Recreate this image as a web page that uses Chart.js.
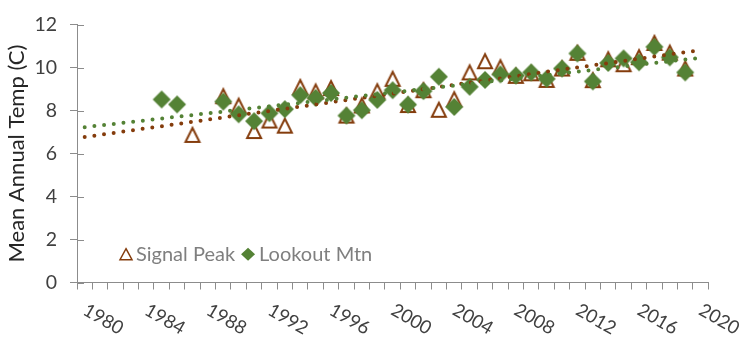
<!DOCTYPE html>
<html><head><meta charset="utf-8">
<script src="https://cdn.jsdelivr.net/npm/chart.js@4/dist/chart.umd.min.js"></script>
<style>html,body{margin:0;padding:0;background:#fff;}#wrap{width:739px;height:338px;}</style>
</head><body><div id="wrap"><canvas id="c" width="739" height="338"></canvas></div>
<script>
const seriesNames = ['Signal Peak', 'Lookout Mtn'];
const signalYears = [1987,1989,1990,1991,1992,1993,1994,1995,1996,1997,1998,1999,2000,2001,2002,2003,2004,2005,2006,2007,2008,2009,2010,2011,2012,2013,2014,2015,2016,2017,2018,2019];
const signalTemps = [6.87,8.67,8.23,7.05,7.54,7.30,9.10,8.89,9.05,7.77,8.24,8.90,9.48,8.26,8.95,8.04,8.53,9.78,10.30,10.02,9.62,9.74,9.43,9.96,10.69,9.42,10.39,10.16,10.49,11.15,10.70,9.96];
const lookoutYears = [1985,1986,1989,1990,1991,1992,1993,1994,1995,1996,1997,1998,1999,2000,2001,2002,2003,2004,2005,2006,2007,2008,2009,2010,2011,2012,2013,2014,2015,2016,2017,2018,2019];
const lookoutTemps = [8.52,8.29,8.42,7.83,7.51,7.88,8.07,8.72,8.59,8.82,7.77,8.02,8.50,8.95,8.28,8.91,9.58,8.17,9.11,9.43,9.69,9.63,9.78,9.48,9.96,10.66,9.36,10.22,10.43,10.25,10.97,10.48,9.78];
const trendYears = [1980, 2020];
const signalTrend = [6.77, 10.82];
const lookoutTrend = [7.23, 10.46];
const xLabelYears = [1980,1984,1988,1992,1996,2000,2004,2008,2012,2016,2020];
const yTickValues = [0,2,4,6,8,10,12];

const BROWN = '#843C0C';
const GREEN = '#548235';
const AXIS = '#8c8c8c';
const FONT = 'Lato, "Open Sans", sans-serif';

function pts(xs, ys){ return xs.map((x,i)=>({x:x, y:ys[i]})); }

function makeTriangle(half, lw){
  const s = Math.ceil(half*2 + lw*4);
  const c = document.createElement('canvas'); c.width = s; c.height = s;
  const g = c.getContext('2d'); const m = s/2;
  g.beginPath(); g.moveTo(m, m-half); g.lineTo(m+half, m+half); g.lineTo(m-half, m+half); g.closePath();
  g.lineWidth = lw; g.strokeStyle = BROWN; g.lineJoin='miter'; g.stroke();
  return c;
}
function makeDiamond(half){
  const s = Math.ceil(half*2 + 2);
  const c = document.createElement('canvas'); c.width = s; c.height = s;
  const g = c.getContext('2d'); const m = s/2;
  g.beginPath(); g.moveTo(m, m-half); g.lineTo(m+half, m); g.lineTo(m, m+half); g.lineTo(m-half, m); g.closePath();
  g.fillStyle = GREEN; g.fill();
  return c;
}
const triImg = makeTriangle(7, 2);
const diaImg = makeDiamond(9);

const yInnerTicks = {
  id: 'yInnerTicks',
  afterDatasetsDraw(chart){
    const ys = chart.scales.y, ctx = chart.ctx;
    ctx.save(); ctx.strokeStyle = AXIS; ctx.lineWidth = 1;
    ys.ticks.forEach(t => {
      const py = Math.round(ys.getPixelForValue(t.value)) + 0.5;
      ctx.beginPath(); ctx.moveTo(ys.right, py); ctx.lineTo(ys.right + 7, py); ctx.stroke();
    });
    ctx.restore();
  }
};

const xLabels = {
  id: 'xLabels',
  afterDraw(chart){
    const xs = chart.scales.x, ctx = chart.ctx;
    ctx.save();
    ctx.font = '18.5px ' + FONT; ctx.fillStyle = '#404040';
    ctx.textAlign = 'left'; ctx.textBaseline = 'middle';
    xLabelYears.forEach(yr => {
      const px = xs.getPixelForValue(yr);
      ctx.save(); ctx.translate(px, xs.top + 26); ctx.rotate(Math.PI/6);
      ctx.fillText(String(yr), 0, 0); ctx.restore();
    });
    ctx.restore();
  }
};

const customLegend = {
  id: 'customLegend',
  afterDraw(chart){
    const ctx = chart.ctx, a = chart.chartArea;
    ctx.save();
    ctx.font = '20px ' + FONT; ctx.fillStyle = '#7f7f7f'; ctx.textBaseline = 'middle'; ctx.textAlign = 'left';
    const cy = a.top + 229.5;
    let x = a.left + 49;
    ctx.beginPath(); ctx.moveTo(x, cy-5.5); ctx.lineTo(x+6, cy+5.5); ctx.lineTo(x-6, cy+5.5); ctx.closePath();
    ctx.strokeStyle = BROWN; ctx.lineWidth = 1.5; ctx.stroke();
    x += 10;
    ctx.fillText(seriesNames[0], x, cy);
    x += ctx.measureText(seriesNames[0]).width + 13;
    ctx.beginPath(); ctx.moveTo(x, cy-6.5); ctx.lineTo(x+7, cy); ctx.lineTo(x, cy+6.5); ctx.lineTo(x-7, cy); ctx.closePath();
    ctx.fillStyle = GREEN; ctx.fill();
    x += 11;
    ctx.fillStyle = '#7f7f7f';
    ctx.fillText(seriesNames[1], x, cy);
    ctx.restore();
  }
};

new Chart(document.getElementById('c'), {
  type: 'scatter',
  data: {
    datasets: [
      { label: seriesNames[1] + ' trend', data: pts(trendYears, lookoutTrend), showLine: true, pointRadius: 0,
        borderColor: GREEN, borderWidth: 4, borderDash: [0, 9.75], borderCapStyle: 'round', order: 1 },
      { label: seriesNames[0] + ' trend', data: pts(trendYears, signalTrend), showLine: true, pointRadius: 0,
        borderColor: BROWN, borderWidth: 4, borderDash: [0, 9.75], borderCapStyle: 'round', order: 2 },
      { label: seriesNames[1], data: pts(lookoutYears, lookoutTemps), pointStyle: diaImg, pointRadius: 9, order: 3 },
      { label: seriesNames[0], data: pts(signalYears, signalTemps), pointStyle: triImg, pointRadius: 9, order: 4 }
    ]
  },
  options: {
    responsive: false, animation: false, devicePixelRatio: 1,
    layout: { padding: { top: 14, right: 30.7, left: 0, bottom: 0 } },
    plugins: { legend: { display: false }, tooltip: { enabled: false } },
    scales: {
      x: {
        type: 'linear', min: 1979.5, max: 2020.5,
        afterBuildTicks: (s) => { const t = []; for (let v = s.min; v <= s.max + 1e-6; v += 1) t.push({value: v}); s.ticks = t; },
        afterFit: (s) => { s.height = 55.5; },
        ticks: { display: false },
        grid: { display: true, drawOnChartArea: false, drawTicks: true, tickLength: 7, color: AXIS, lineWidth: 1 },
        border: { display: true, color: AXIS, width: 1 }
      },
      y: {
        min: 0, max: 12,
        afterBuildTicks: (s) => { s.ticks = yTickValues.map(v => ({value: v})); },
        afterFit: (s) => { s.width = 77; },
        ticks: { font: { family: FONT, size: 19.5 }, color: '#404040', padding: 13 },
        grid: { display: true, drawOnChartArea: false, drawTicks: true, tickLength: 7, color: AXIS, lineWidth: 1 },
        border: { display: true, color: AXIS, width: 1 },
        title: { display: true, text: 'Mean Annual Temp (C)', font: { family: FONT, size: 22 }, color: '#262626', padding: { top: 4, bottom: 0 } }
      }
    }
  },
  plugins: [yInnerTicks, xLabels, customLegend]
});
</script>
</body></html>
